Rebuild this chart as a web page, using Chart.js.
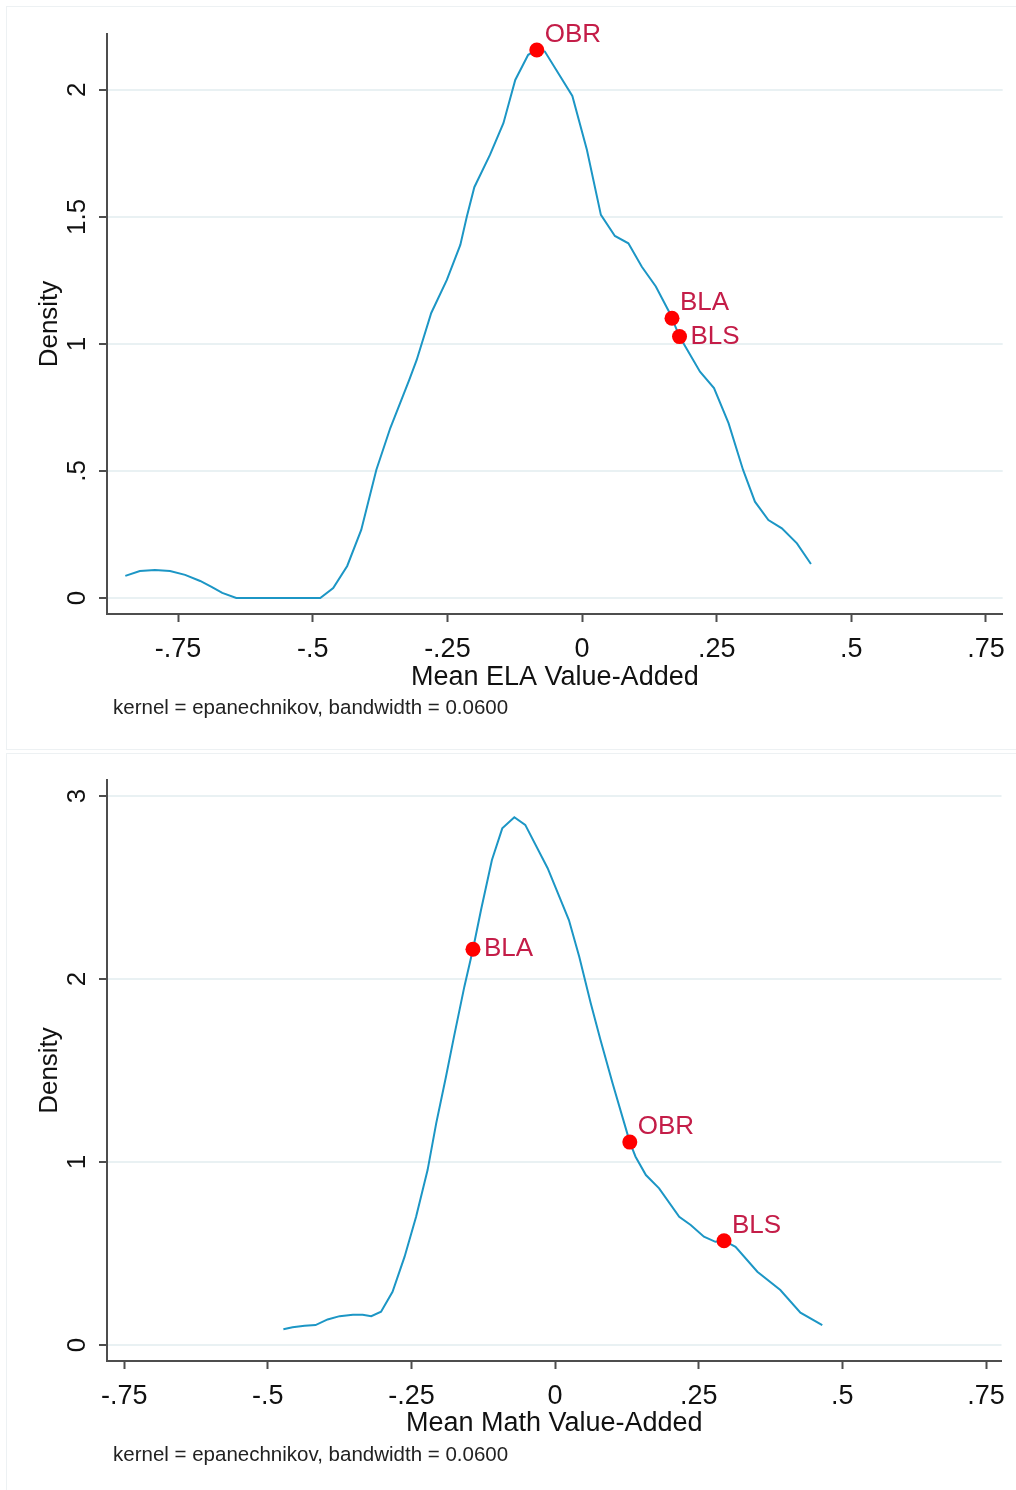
<!DOCTYPE html>
<html>
<head>
<meta charset="utf-8">
<title>Mean Value-Added Kernel Densities</title>
<script src="https://cdn.jsdelivr.net/npm/chart.js@4.4.1/dist/chart.umd.min.js"></script>
<style>
  html, body { margin: 0; padding: 0; background: #fff; }
  body { width: 1016px; height: 1490px; position: relative; overflow: hidden; }
  .panel { position: absolute; left: 6px; width: 1010px; border: 1px solid #edf1f3; border-right: none; box-sizing: border-box; }
  canvas { position: absolute; left: 0; }
</style>
</head>
<body>
<div class="panel" style="top:6px;height:744px;"></div>
<div class="panel" style="top:753px;height:740px;"></div>
<canvas id="ela-chart" width="1016" height="745" style="top:0px;"></canvas>
<canvas id="math-chart" width="1016" height="745" style="top:745px;"></canvas>

<script>
/******************************  Data  **********************************/
var xTicks = [-0.75, -0.5, -0.25, 0, 0.25, 0.5, 0.75];
var xTickLabels = ['-.75', '-.5', '-.25', '0', '.25', '.5', '.75'];

// ELA kernel density
var elaX = [-0.848, -0.821, -0.793, -0.765, -0.737, -0.709, -0.687, -0.668, -0.642, -0.486,
            -0.462, -0.436, -0.410, -0.382, -0.356, -0.321, -0.307, -0.280, -0.251, -0.226,
            -0.214, -0.200, -0.171, -0.146, -0.124, -0.100, -0.084, -0.069, -0.018, 0.009,
            0.035, 0.061, 0.086, 0.111, 0.137, 0.163, 0.167, 0.181, 0.219, 0.245,
            0.272, 0.299, 0.321, 0.346, 0.371, 0.399, 0.425];
var elaY = [0.087, 0.106, 0.110, 0.106, 0.091, 0.067, 0.043, 0.020, 0, 0,
            0.039, 0.126, 0.268, 0.504, 0.669, 0.858, 0.937, 1.122, 1.252, 1.390,
            1.501, 1.617, 1.744, 1.869, 2.039, 2.138, 2.157, 2.151, 1.976, 1.764,
            1.508, 1.425, 1.396, 1.304, 1.226, 1.121, 1.101, 1.029, 0.891, 0.826,
            0.688, 0.504, 0.379, 0.307, 0.274, 0.215, 0.134];
var elaMarkNames = ['OBR', 'BLA', 'BLS'];
var elaMarkX = [-0.084, 0.167, 0.181];
var elaMarkY = [2.157, 1.101, 1.029];
var elaYTicks = [0, 0.5, 1, 1.5, 2];
var elaYTickLabels = ['0', '.5', '1', '1.5', '2'];

// Math kernel density
var mathX = [-0.473, -0.457, -0.436, -0.417, -0.396, -0.375, -0.352, -0.335, -0.320, -0.303,
             -0.283, -0.262, -0.242, -0.222, -0.207, -0.190, -0.176, -0.158, -0.143, -0.129,
             -0.110, -0.092, -0.071, -0.052, -0.013, 0.024, 0.042, 0.062, 0.079, 0.100,
             0.117, 0.130, 0.140, 0.158, 0.181, 0.216, 0.236, 0.259, 0.279, 0.294,
             0.314, 0.352, 0.392, 0.427, 0.465];
var mathY = [0.086, 0.097, 0.105, 0.109, 0.140, 0.158, 0.166, 0.166, 0.158, 0.182,
             0.291, 0.483, 0.701, 0.956, 1.211, 1.466, 1.685, 1.958, 2.162, 2.377,
             2.650, 2.823, 2.884, 2.842, 2.605, 2.322, 2.122, 1.867, 1.667, 1.430,
             1.248, 1.109, 1.029, 0.929, 0.856, 0.701, 0.656, 0.592, 0.564, 0.570,
             0.537, 0.401, 0.301, 0.177, 0.109];
var mathMarkNames = ['BLA', 'OBR', 'BLS'];
var mathMarkX = [-0.143, 0.130, 0.294];
var mathMarkY = [2.162, 1.109, 0.570];
var mathYTicks = [0, 1, 2, 3];
var mathYTickLabels = ['0', '1', '2', '3'];

var noteText = 'kernel = epanechnikov, bandwidth = 0.0600';

/******************************  Styles  ********************************/
var FONT = '"Liberation Sans", Arial, Helvetica, sans-serif';
var LINE_COLOR = '#1c96c5';
var DOT_COLOR = '#ff0000';
var LABEL_COLOR = '#c41d48';
var AXIS_COLOR = '#4d4d4d';
var GRID_COLOR = '#e9f1f3';
// marker label offsets by clock position (Stata style)
var clockOffset = { 2: [8, -15], 3: [11, 0] };

function pairs(xs, ys) {
	return xs.map(function(x, i) { return { x: x, y: ys[i] }; });
}

/***************************  Text plugin  *******************************/
var panelText = {
	id: 'panelText',
	afterDatasetsDraw: function(chart, args, opts) {
		var ctx = chart.ctx;
		var yScale = chart.scales.y;
		ctx.save();

		// rotated y tick labels
		ctx.fillStyle = '#111';
		ctx.font = '26px ' + FONT;
		ctx.textAlign = 'center';
		ctx.textBaseline = 'middle';
		opts.yTicks.forEach(function(v, i) {
			ctx.save();
			ctx.translate(chart.chartArea.left - 29, yScale.getPixelForValue(v));
			ctx.rotate(-Math.PI / 2);
			ctx.fillText(opts.yTickLabels[i], 0, 0);
			ctx.restore();
		});

		// marker labels
		ctx.fillStyle = LABEL_COLOR;
		ctx.textAlign = 'left';
		chart.getDatasetMeta(0).data.forEach(function(pt, i) {
			var off = clockOffset[opts.markPos[i]];
			ctx.fillText(opts.markNames[i], pt.x + off[0], pt.y + off[1]);
		});

		// kernel note
		ctx.fillStyle = '#222';
		ctx.font = '20.5px ' + FONT;
		ctx.fillText(noteText, 113, opts.noteY);
		ctx.restore();
	}
};

/***************************  Density chart  *****************************/
function buildDensity(id, p) {
	var ctx = document.getElementById(id).getContext('2d');
	return new Chart(ctx, {
		type: 'scatter',
		data: {
			datasets: [
				{
					data: pairs(p.markX, p.markY),
					pointRadius: 7.5,
					pointHoverRadius: 7.5,
					backgroundColor: DOT_COLOR,
					borderWidth: 0
				},
				{
					data: pairs(p.x, p.y),
					showLine: true,
					pointRadius: 0,
					borderColor: LINE_COLOR,
					borderWidth: 2,
					tension: 0
				}
			]
		},
		options: {
			responsive: false,
			animation: false,
			devicePixelRatio: 1,
			layout: { padding: { left: 0, right: 13, top: p.top, bottom: 0 } },
			plugins: {
				legend: { display: false },
				tooltip: { enabled: false },
				panelText: {
					yTicks: p.yTicks,
					yTickLabels: p.yTickLabels,
					markNames: p.markNames,
					markPos: p.markPos,
					noteY: p.noteY
				}
			},
			scales: {
				x: {
					type: 'linear',
					position: 'bottom',
					min: p.xMin,
					max: p.xMax,
					afterBuildTicks: function(scale) {
						scale.ticks = xTicks.map(function(v) { return { value: v }; });
					},
					afterFit: function(scale) { scale.height = p.xAxisHeight; },
					ticks: {
						autoSkip: false,
						maxRotation: 0,
						padding: 11,
						color: '#111',
						font: { family: FONT, size: 27 },
						callback: function(v, i) { return xTickLabels[i]; }
					},
					grid: {
						drawOnChartArea: false,
						drawTicks: true,
						tickLength: 8,
						tickWidth: 2,
						tickColor: AXIS_COLOR
					},
					border: { display: true, color: AXIS_COLOR, width: 2 },
					title: {
						display: true,
						text: p.xTitle,
						color: '#111',
						font: { family: FONT, size: 27 },
						padding: { top: 0, bottom: p.xTitlePad }
					}
				},
				y: {
					type: 'linear',
					min: p.yMin,
					max: p.yMax,
					afterBuildTicks: function(scale) {
						scale.ticks = p.yTicks.map(function(v) { return { value: v }; });
					},
					afterFit: function(scale) { scale.width = 107; },
					ticks: { display: false },
					grid: {
						color: GRID_COLOR,
						lineWidth: 2,
						drawTicks: true,
						tickLength: 8,
						tickWidth: 2,
						tickColor: AXIS_COLOR
					},
					border: { display: true, color: AXIS_COLOR, width: 2 },
					title: {
						display: true,
						text: 'Density',
						color: '#111',
						font: { family: FONT, size: 26 },
						padding: { top: 34, bottom: 0 }
					}
				}
			}
		},
		plugins: [panelText]
	});
}

buildDensity('ela-chart', {
	x: elaX, y: elaY,
	markX: elaMarkX, markY: elaMarkY, markNames: elaMarkNames, markPos: [2, 2, 3],
	yTicks: elaYTicks, yTickLabels: elaYTickLabels,
	xMin: -0.882, xMax: 0.781, yMin: -0.063, yMax: 2.22,
	top: 34, xAxisHeight: 131, xTitle: 'Mean ELA Value-Added', xTitlePad: 51, noteY: 708
});

buildDensity('math-chart', {
	x: mathX, y: mathY,
	markX: mathMarkX, markY: mathMarkY, markNames: mathMarkNames, markPos: [3, 2, 2],
	yTicks: mathYTicks, yTickLabels: mathYTickLabels,
	xMin: -0.78, xMax: 0.777, yMin: -0.087, yMax: 3.087,
	top: 35, xAxisHeight: 129, xTitle: 'Mean Math Value-Added', xTitlePad: 50, noteY: 710
});
</script>
</body>
</html>
